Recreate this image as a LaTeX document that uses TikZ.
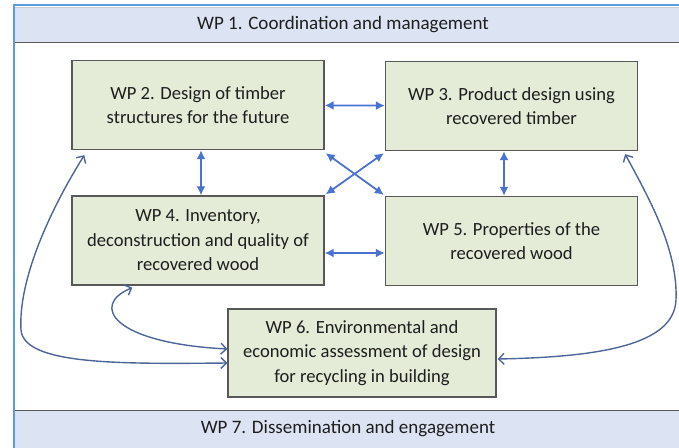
\documentclass[tikz,border=0pt]{standalone}
\usepackage{fontspec}
\setmainfont{Carlito}
\usepackage{xcolor}
\usetikzlibrary{arrows.meta,calc,positioning}

\definecolor{wpgreen}{HTML}{E4ECD8}
\definecolor{barblue}{HTML}{DCE3F3}
\definecolor{frameblue}{HTML}{5B9BE0}
\definecolor{linkblue}{HTML}{4A72D2}
\definecolor{curveblue}{HTML}{4D6699}
\definecolor{wptext}{HTML}{1E1E1E}

\begin{document}
\begin{tikzpicture}[x=1pt,y=-1pt,
	wpbox/.style={draw=black!65, line width=1.3pt, fill=wpgreen, align=center,
		minimum width=252pt, minimum height=89pt, inner sep=0pt,
		text=wptext, font=\fontsize{18.6}{24.5}\selectfont},
	wpbar/.style={fill=barblue, minimum width=680pt, inner sep=0pt},
	bartext/.style={text=wptext, font=\fontsize{19}{22}\selectfont},
	wplink/.style={{Latex[length=9pt,width=9pt]}-{Latex[length=9pt,width=9pt]}, draw=linkblue, line width=1.8pt},
	wpcurve/.style={{Straight Barb[length=5.5pt,width=11pt]}-{Straight Barb[length=5.5pt,width=11pt]}, draw=curveblue, line width=1.4pt}]
	\useasboundingbox (0,0) rectangle (679,447);
	
	% Frame and the two bars across the page
	\node[wpbar, minimum height=34pt, anchor=west] (wp1) at (15,25) {};
	\node[bartext] (wp1text) at (343,25) {WP 1. Coordination and management};
	\node[wpbar, minimum height=37pt, anchor=west] (wp7) at (15,429.5) {};
	\node[bartext] (wp7text) at (348,429) {WP 7. Dissemination and engagement};
	\draw[black!65, line width=1.3pt] (wp1.south west) -- (wp1.south east);
	\draw[black!65, line width=1.3pt] (wp7.north west) -- (wp7.north east);
	\draw[black!20, line width=0.8pt] (wp1.north west) -- (wp1.north east);
	\draw[frameblue, line width=2.5pt] (14,450) -- (14,5) -- (685,5);
	
	% Work packages
	\node[wpbox] (wp2) at (198,105) {WP 2. Design of timber\\structures for the future};
	\node[wpbox] (wp3) at (511.5,106) {WP 3. Product design using\\recovered timber};
	\node[wpbox] (wp4) at (198,240.5) {WP 4. Inventory,\\deconstruction and quality of\\recovered wood};
	\node[wpbox] (wp5) at (511.5,241) {WP 5. Properties of the\\recovered wood};
	\node[wpbox, minimum width=268pt, minimum height=88pt] (wp6) at (362,353) {WP 6. Environmental and\\economic assessment of design\\for recycling in building};
	
	% Straight links between the boxes
	\draw[wplink] (wp2) -- (wp3);
	\draw[wplink] ([yshift=-12.5pt]wp4.east) -- ([yshift=-12pt]wp5.west);
	\draw[wplink] ([xshift=3pt]wp2.south) -- ([xshift=3pt]wp4.north);
	\draw[wplink] ([xshift=-7.5pt]wp3.south) -- ([xshift=-7.5pt]wp5.north);
	\draw[wplink] ($(wp2.south east)+(1,3)$) -- ($(wp5.north west)+(-1,-1)$);
	\draw[wplink] ($(wp4.north east)+(1,-1)$) -- ($(wp3.south west)+(-1,2)$);
	
	% Curved links to WP 6
	\draw[wpcurve] ($(wp4.south west)+(61,2)$) .. controls (90,305) and (112,343) .. ($(wp6.west)+(0,-4)$);
	\draw[wpcurve] ($(wp2.south west)+(13,5)$) .. controls (50,210) and (18,280) .. (21,330)
		.. controls (24,365) and (120,364) .. ($(wp6.west)+(0,10)$);
	\draw[wpcurve] ($(wp3.south east)+(-13,3)$) .. controls (650,200) and (678,250) .. (676,300)
		.. controls (674,345) and (600,357) .. ($(wp6.east)+(1,6)$);
\end{tikzpicture}
\end{document}
